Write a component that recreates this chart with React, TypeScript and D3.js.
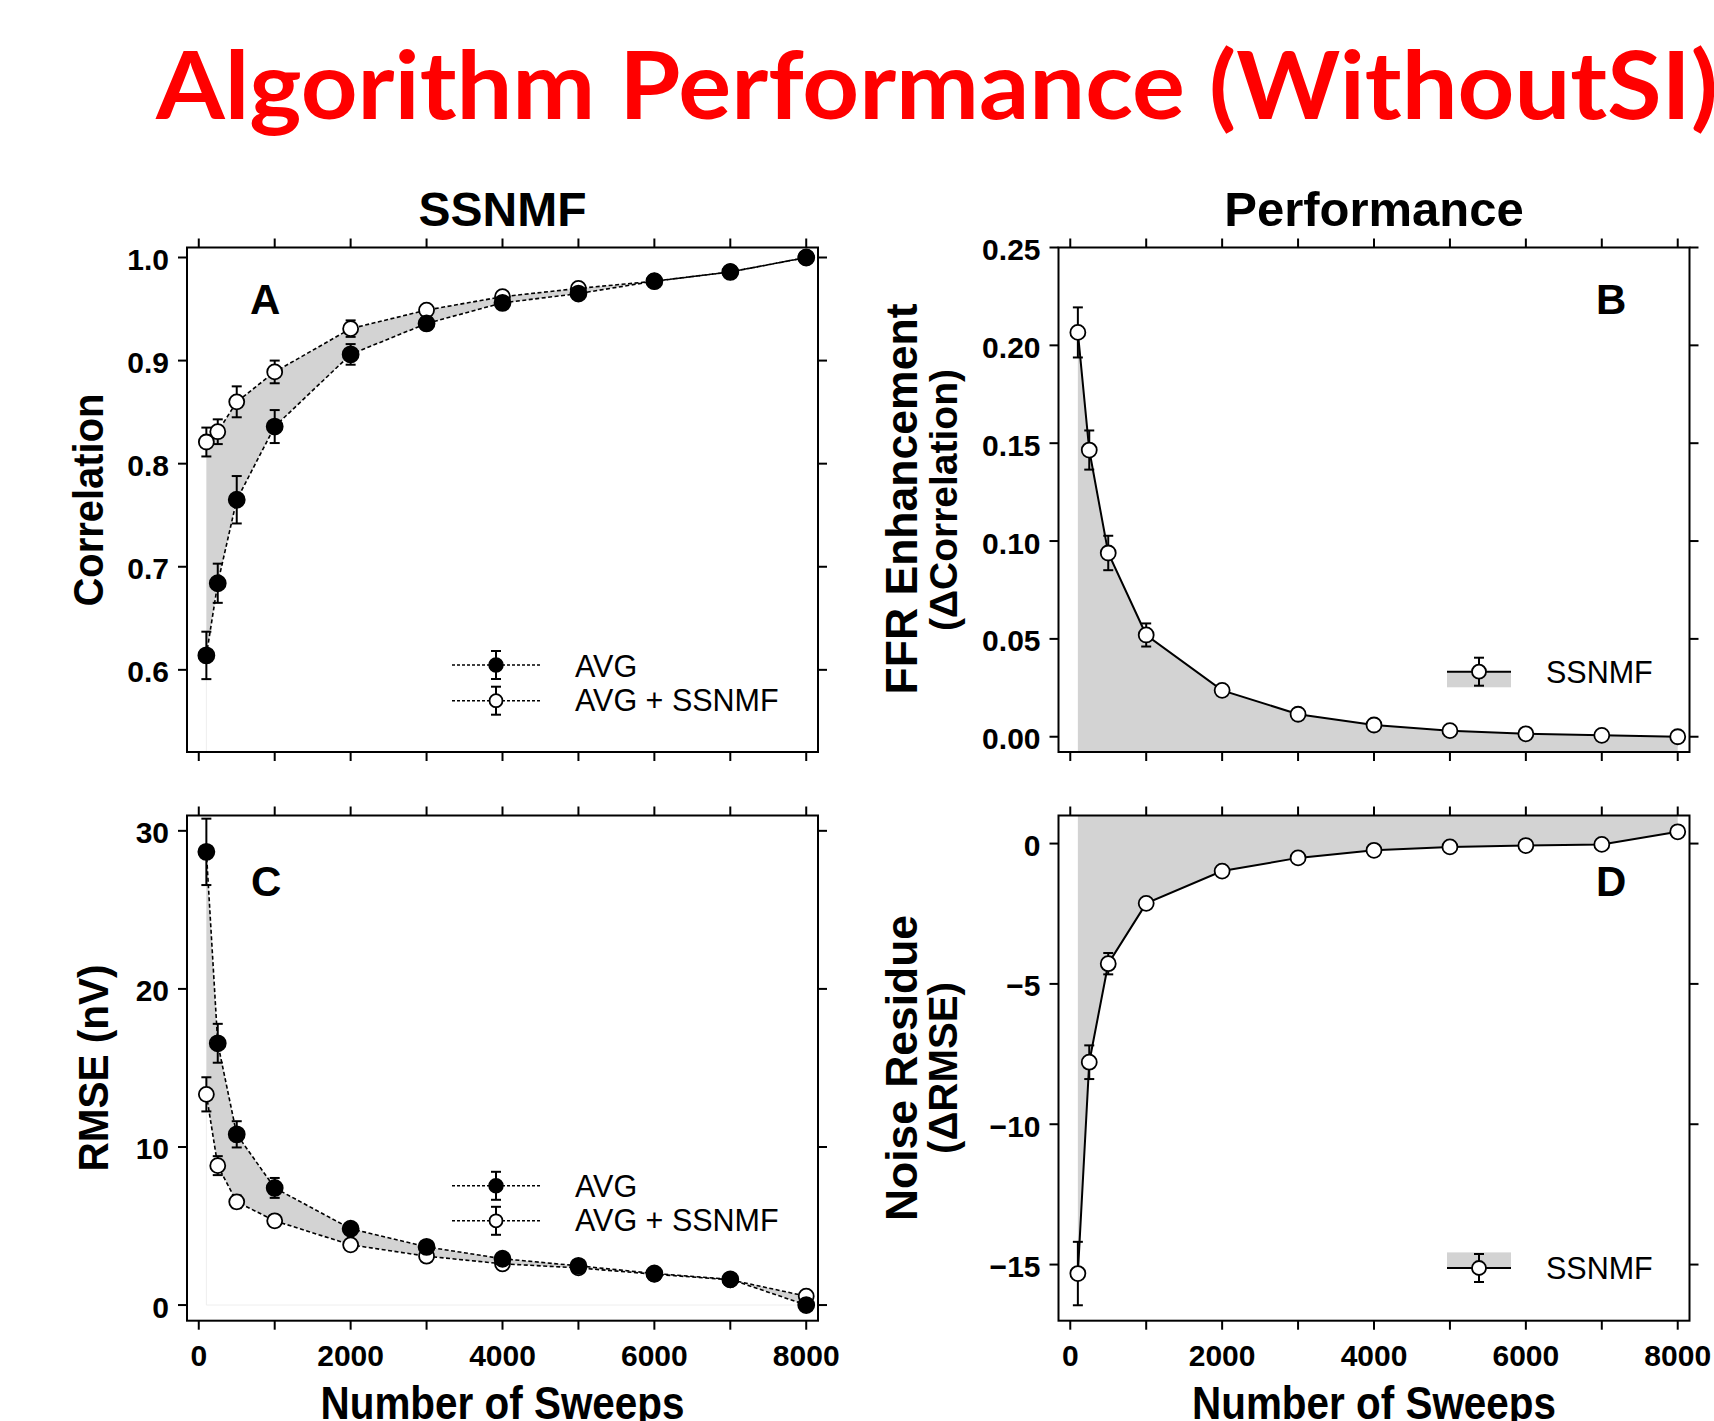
import React from 'react';
import * as d3 from 'd3';

// ---------------- data ----------------
const SWEEPS = [100, 250, 500, 1000, 2000, 3000, 4000, 5000, 6000, 7000, 8000];

const CORR_AVG = [0.614, 0.684, 0.765, 0.836, 0.906, 0.936, 0.956, 0.965, 0.977, 0.986, 1.0];
const CORR_AVG_ERR = [0.023, 0.019, 0.023, 0.016, 0.010, 0.006, 0.003, 0.003, 0.002, 0.002, 0.0];
const CORR_SSNMF = [0.821, 0.831, 0.86, 0.889, 0.931, 0.949, 0.962, 0.97, 0.977, 0.986, 1.0];
const CORR_SSNMF_ERR = [0.014, 0.012, 0.015, 0.011, 0.008, 0.005, 0.003, 0.002, 0.002, 0.001, 0.0];

const DCORR = [0.2066, 0.1465, 0.0939, 0.052, 0.0237, 0.0115, 0.006, 0.0031, 0.0015, 0.0007, 0.0];
const DCORR_ERR = [0.0128, 0.01, 0.0088, 0.0059, 0.0025, 0.0012, 0.0008, 0.0006, 0.0004, 0.0003, 0.0];

const RMSE_AVG = [28.67, 16.56, 10.8, 7.41, 4.83, 3.68, 2.93, 2.48, 2.0, 1.63, 0.0];
const RMSE_AVG_ERR = [2.1, 1.23, 0.83, 0.63, 0.3, 0.2, 0.15, 0.12, 0.1, 0.08, 0.0];
const RMSE_SSNMF = [13.33, 8.82, 6.53, 5.33, 3.81, 3.09, 2.61, 2.35, 1.95, 1.6, 0.56];
const RMSE_SSNMF_ERR = [1.08, 0.6, 0.4, 0.35, 0.2, 0.15, 0.1, 0.08, 0.06, 0.05, 0.0];

const DRMSE = [-15.32, -7.79, -4.28, -2.13, -0.98, -0.51, -0.24, -0.12, -0.07, -0.03, 0.42];
const DRMSE_ERR = [1.13, 0.6, 0.38, 0.15, 0.1, 0.08, 0.05, 0.04, 0.03, 0.03, 0.0];

const X_TICKS = [0, 1000, 2000, 3000, 4000, 5000, 6000, 7000, 8000];
const X_TICK_LABELS = [0, 2000, 4000, 6000, 8000];
const Y_TICKS_A = [0.6, 0.7, 0.8, 0.9, 1.0];
const Y_TICKS_B = [0.0, 0.05, 0.1, 0.15, 0.2, 0.25];
const Y_TICKS_C = [0, 10, 20, 30];
const Y_TICKS_D = [-15, -10, -5, 0];

const TITLE = 'Algorithm Performance (WithoutSI)';

// ---------------- layout ----------------
const W = 1714;
const H = 1421;
const FONT = "'Liberation Sans', Arial, Helvetica, sans-serif";
const GRAY = '#d3d3d3';
const X_DOMAIN = [-155, 8155];
const COL_L = [187, 818];
const COL_R = [1058.5, 1689.5];
const ROW_T = [247.5, 752];
const ROW_B = [815.5, 1320.7];
const TICK = 9;
const TICK_FONT = 30;

type Frame = { l: number; r: number; t: number; b: number };

function Axes({ f, x, y, yTicks, fmt, xLabels }: any) {
  return (
    <g>
      <rect x={f.l} y={f.t} width={f.r - f.l} height={f.b - f.t} fill="none" stroke="#000" strokeWidth={2} />
      {X_TICKS.map((t) => (
        <g key={'x' + t}>
          <line x1={x(t)} x2={x(t)} y1={f.t - TICK} y2={f.t} stroke="#000" strokeWidth={2} />
          <line x1={x(t)} x2={x(t)} y1={f.b} y2={f.b + TICK} stroke="#000" strokeWidth={2} />
        </g>
      ))}
      {xLabels &&
        X_TICK_LABELS.map((t) => (
          <text key={'xl' + t} x={x(t)} y={f.b + 45} textAnchor="middle" fontFamily={FONT} fontWeight="bold" fontSize={TICK_FONT}>
            {t}
          </text>
        ))}
      {yTicks.map((t: number) => (
        <g key={'y' + t}>
          <line x1={f.l - TICK} x2={f.l} y1={y(t)} y2={y(t)} stroke="#000" strokeWidth={2} />
          <line x1={f.r} x2={f.r + TICK} y1={y(t)} y2={y(t)} stroke="#000" strokeWidth={2} />
          <text x={f.l - TICK - 9} y={y(t) + 12.5} textAnchor="end" fontFamily={FONT} fontWeight="bold" fontSize={TICK_FONT}>
            {fmt(t)}
          </text>
        </g>
      ))}
    </g>
  );
}

function ErrBar({ cx, y1, y2 }: any) {
  return (
    <g stroke="#000" strokeWidth={2}>
      <line x1={cx} x2={cx} y1={y1} y2={y2} />
      <line x1={cx - 5} x2={cx + 5} y1={y1} y2={y1} />
      <line x1={cx - 5} x2={cx + 5} y1={y2} y2={y2} />
    </g>
  );
}

function Series({ x, y, vals, dashed }: any) {
  const line = d3
    .line<number>()
    .x((_, i) => x(SWEEPS[i]))
    .y((v) => y(v));
  return (
    <path
      d={line(vals) || ''}
      fill="none"
      stroke="#000"
      strokeWidth={dashed ? 1.6 : 2}
      strokeDasharray={dashed ? '4,2.5' : undefined}
    />
  );
}

function Points({ x, y, vals, errs, filled }: any) {
  return (
    <g>
      {vals.map((v: number, i: number) => (
        <ErrBar key={'e' + i} cx={x(SWEEPS[i])} y1={y(v + errs[i])} y2={y(v - errs[i])} />
      ))}
      {vals.map((v: number, i: number) => (
        <circle
          key={'c' + i}
          cx={x(SWEEPS[i])}
          cy={y(v)}
          r={filled ? 8 : 7.5}
          fill={filled ? '#000' : '#fff'}
          stroke="#000"
          strokeWidth={1.8}
        />
      ))}
    </g>
  );
}

function LegendTwo({ yTop, yBot }: any) {
  const x1 = 452, x2 = 541, mx = 496;
  return (
    <g>
      <line x1={x1} x2={x2} y1={yTop} y2={yTop} stroke="#000" strokeWidth={1.6} strokeDasharray="3,2" />
      <ErrBar cx={mx} y1={yTop - 14} y2={yTop + 14} />
      <circle cx={mx} cy={yTop} r={7} fill="#000" stroke="#000" strokeWidth={1.5} />
      <text x={575} y={yTop + 11.5} fontFamily={FONT} fontSize={30.5}>AVG</text>
      <line x1={x1} x2={x2} y1={yBot} y2={yBot} stroke="#000" strokeWidth={1.6} strokeDasharray="3,2" />
      <ErrBar cx={mx} y1={yBot - 14} y2={yBot + 14} />
      <circle cx={mx} cy={yBot} r={6.5} fill="#fff" stroke="#000" strokeWidth={1.8} />
      <text x={575} y={yBot + 10} fontFamily={FONT} fontSize={30.5}>AVG + SSNMF</text>
    </g>
  );
}

function LegendOne({ lineY, rectY }: any) {
  const x1 = 1447, x2 = 1511, mx = 1479;
  return (
    <g>
      <rect x={x1} y={rectY} width={x2 - x1} height={15.6} fill={GRAY} />
      <line x1={x1} x2={x2} y1={lineY} y2={lineY} stroke="#000" strokeWidth={2} />
      <ErrBar cx={mx} y1={lineY - 14} y2={lineY + 14} />
      <circle cx={mx} cy={lineY} r={7} fill="#fff" stroke="#000" strokeWidth={1.8} />
      <text x={1546} y={lineY + 11} fontFamily={FONT} fontSize={30.5}>SSNMF</text>
    </g>
  );
}

function RotTitle({ x, cy, text, size, len }: any) {
  return (
    <text
      transform={`translate(${x},${cy}) rotate(-90)`}
      textAnchor="middle"
      fontFamily={FONT}
      fontWeight="bold"
      fontSize={size}
      textLength={len}
      lengthAdjust="spacingAndGlyphs"
    >
      {text}
    </text>
  );
}

export default function App() {
  const fA: Frame = { l: COL_L[0], r: COL_L[1], t: ROW_T[0], b: ROW_T[1] };
  const fB: Frame = { l: COL_R[0], r: COL_R[1], t: ROW_T[0], b: ROW_T[1] };
  const fC: Frame = { l: COL_L[0], r: COL_L[1], t: ROW_B[0], b: ROW_B[1] };
  const fD: Frame = { l: COL_R[0], r: COL_R[1], t: ROW_B[0], b: ROW_B[1] };

  const xL = d3.scaleLinear().domain(X_DOMAIN).range([fA.l, fA.r]);
  const xR = d3.scaleLinear().domain(X_DOMAIN).range([fB.l, fB.r]);
  const yA = d3.scaleLinear().domain([0.5203, 1.0097]).range([fA.b, fA.t]);
  const yB = d3.scaleLinear().domain([-0.0078, 0.25]).range([fB.b, fB.t]);
  const yC = d3.scaleLinear().domain([-0.99, 30.97]).range([fC.b, fC.t]);
  const yD = d3.scaleLinear().domain([-17.0, 1.0]).range([fD.b, fD.t]);

  const bandA = d3
    .area<number>()
    .x((i) => xL(SWEEPS[i]))
    .y0((i) => yA(CORR_AVG[i]))
    .y1((i) => yA(CORR_SSNMF[i]));
  const bandC = d3
    .area<number>()
    .x((i) => xL(SWEEPS[i]))
    .y0((i) => yC(RMSE_AVG[i]))
    .y1((i) => yC(RMSE_SSNMF[i]));
  const areaB = d3
    .area<number>()
    .x((i) => xR(SWEEPS[i]))
    .y0(fB.b)
    .y1((i) => yB(DCORR[i]));
  const areaD = d3
    .area<number>()
    .x((i) => xR(SWEEPS[i]))
    .y0(fD.t)
    .y1((i) => yD(DRMSE[i]));
  const idx = SWEEPS.map((_, i) => i);
  const minus = (v: number) => (v < 0 ? '\u2212' + Math.abs(v) : String(v));

  return (
    <svg
      width={W}
      height={H}
      viewBox={`0 0 ${W} ${H}`}
      style={{ position: 'absolute', left: 0, top: 0, background: '#fff', display: 'block' }}
    >
      <rect x={0} y={0} width={W} height={H} fill="#fff" />
      <text
        x={156}
        y={119}
        fill="#ff0000"
        fontFamily="Lato, 'Open Sans', sans-serif"
        fontWeight="bold"
        fontSize={94}
        textLength={1562}
        lengthAdjust="spacingAndGlyphs"
      >
        {TITLE}
      </text>

      <text x={(fA.l + fA.r) / 2} y={226} textAnchor="middle" fontFamily={FONT} fontWeight="bold" fontSize={48}>SSNMF</text>
      <text x={(fB.l + fB.r) / 2} y={226} textAnchor="middle" fontFamily={FONT} fontWeight="bold" fontSize={49}>Performance</text>

      {/* Panel A */}
      <line x1={xL(SWEEPS[0])} x2={xL(SWEEPS[0])} y1={yA(CORR_AVG[0])} y2={fA.b} stroke="#eeeeee" strokeWidth={1} />
      <path d={bandA(idx) || ''} fill={GRAY} />
      <Series x={xL} y={yA} vals={CORR_SSNMF} dashed />
      <Series x={xL} y={yA} vals={CORR_AVG} dashed />
      <Points x={xL} y={yA} vals={CORR_SSNMF} errs={CORR_SSNMF_ERR} filled={false} />
      <Points x={xL} y={yA} vals={CORR_AVG} errs={CORR_AVG_ERR} filled />
      <Axes f={fA} x={xL} y={yA} yTicks={Y_TICKS_A} fmt={(v: number) => v.toFixed(1)} xLabels={false} />
      <text x={250} y={314} fontFamily={FONT} fontWeight="bold" fontSize={42}>A</text>
      <LegendTwo yTop={665} yBot={700.7} />
      <RotTitle x={103} cy={500} text="Correlation" size={42} len={213} />

      {/* Panel B */}
      <path d={areaB(idx) || ''} fill={GRAY} />
      <Series x={xR} y={yB} vals={DCORR} />
      <Points x={xR} y={yB} vals={DCORR} errs={DCORR_ERR} filled={false} />
      <Axes f={fB} x={xR} y={yB} yTicks={Y_TICKS_B} fmt={(v: number) => v.toFixed(2)} xLabels={false} />
      <text x={1596} y={314} fontFamily={FONT} fontWeight="bold" fontSize={42}>B</text>
      <LegendOne lineY={671.7} rectY={671.7} />
      <RotTitle x={917} cy={499} text="FFR Enhancement" size={44} len={391} />
      <RotTitle x={957} cy={500} text="(ΔCorrelation)" size={38} len={262} />

      {/* Panel C */}
      <path
        d={`M${xL(SWEEPS[0])},${yC(RMSE_SSNMF[0])}V${yC(0)}H${xL(SWEEPS[SWEEPS.length - 1])}`}
        fill="none"
        stroke="#eeeeee"
        strokeWidth={1}
      />
      <path d={bandC(idx) || ''} fill={GRAY} />
      <Series x={xL} y={yC} vals={RMSE_SSNMF} dashed />
      <Series x={xL} y={yC} vals={RMSE_AVG} dashed />
      <Points x={xL} y={yC} vals={RMSE_SSNMF} errs={RMSE_SSNMF_ERR} filled={false} />
      <Points x={xL} y={yC} vals={RMSE_AVG} errs={RMSE_AVG_ERR} filled />
      <Axes f={fC} x={xL} y={yC} yTicks={Y_TICKS_C} fmt={(v: number) => String(v)} xLabels />
      <text x={251} y={896} fontFamily={FONT} fontWeight="bold" fontSize={42}>C</text>
      <LegendTwo yTop={1185.8} yBot={1220.8} />
      <RotTitle x={108} cy={1068} text="RMSE (nV)" size={42} len={207} />
      <text x={(fC.l + fC.r) / 2} y={1419} textAnchor="middle" fontFamily={FONT} fontWeight="bold" fontSize={46} textLength={364} lengthAdjust="spacingAndGlyphs">Number of Sweeps</text>

      {/* Panel D */}
      <path d={areaD(idx) || ''} fill={GRAY} />
      <Series x={xR} y={yD} vals={DRMSE} />
      <Points x={xR} y={yD} vals={DRMSE} errs={DRMSE_ERR} filled={false} />
      <Axes f={fD} x={xR} y={yD} yTicks={Y_TICKS_D} fmt={minus} xLabels />
      <text x={1596} y={896} fontFamily={FONT} fontWeight="bold" fontSize={42}>D</text>
      <LegendOne lineY={1268} rectY={1252.4} />
      <RotTitle x={917} cy={1068} text="Noise Residue" size={44} len={306} />
      <RotTitle x={957} cy={1068} text="(ΔRMSE)" size={40} len={172} />
      <text x={(fD.l + fD.r) / 2} y={1419} textAnchor="middle" fontFamily={FONT} fontWeight="bold" fontSize={46} textLength={364} lengthAdjust="spacingAndGlyphs">Number of Sweeps</text>
    </svg>
  );
}
